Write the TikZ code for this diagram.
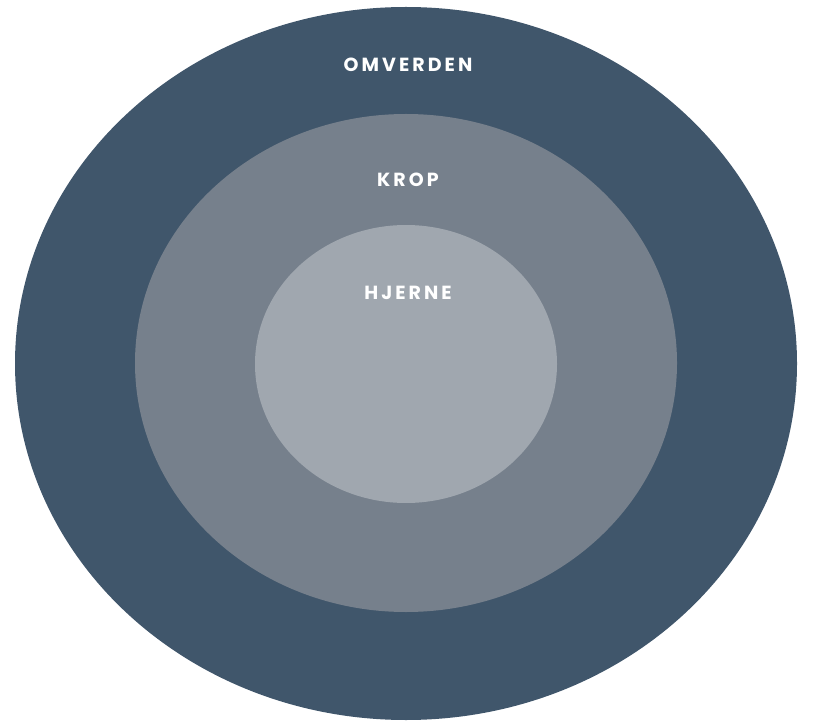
\documentclass[tikz,border=0pt]{standalone}
\usepackage{fontspec}
\newfontfamily\lblfont{Poppins}[LetterSpace=16]
\definecolor{outerc}{HTML}{40566B}
\definecolor{midc}{HTML}{76808C}
\definecolor{innerc}{HTML}{A0A7AF}
\begin{document}
\begin{tikzpicture}[x=1pt,y=1pt,
  lbl/.style={text=white,font=\lblfont\bfseries\fontsize{19}{19}\selectfont,inner sep=0pt,anchor=base}]
\useasboundingbox (0,0) rectangle (813,721);
\fill[outerc] (406,357.5) ellipse [x radius=391, y radius=356.5];
\fill[midc] (406,358) ellipse [x radius=271, y radius=249];
\fill[innerc] (406,357) ellipse [x radius=151, y radius=139];
\node[lbl] (omverden) at (408,649.5) {OMVERDEN};
\node[lbl] (krop) at (408,534.5) {KROP};
\node[lbl] (hjerne) at (408,421.5) {HJERNE};
\end{tikzpicture}
\end{document}
